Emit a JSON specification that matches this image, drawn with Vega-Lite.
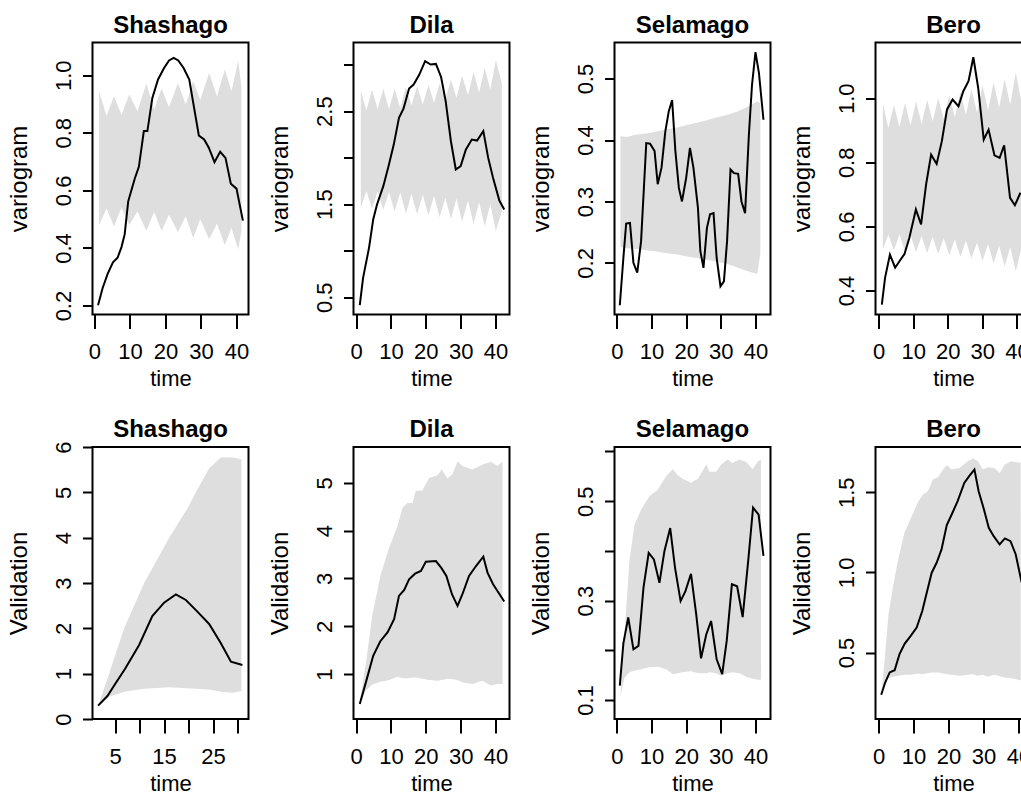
{
  "$schema": "https://vega.github.io/schema/vega-lite/v6.json",
  "background": "white",
  "padding": {"left": 5.5, "top": 12.5, "right": 5, "bottom": 5},
  "columns": 4,
  "spacing": {"row": 132.5, "column": 105},
  "bounds": "flush",
  "config": {
    "view": {"stroke": "black", "strokeWidth": 2},
    "axis": {"grid": false, "domain": false, "ticks": true, "tickColor": "black", "tickWidth": 2, "labelColor": "black", "titleColor": "black", "labelOverlap": false, "labelFlush": false, "titleFontWeight": "normal"},
    "axisX": {"tickSize": 14, "labelPadding": 13, "labelFont": "Liberation Sans", "labelFontSize": 22, "titleFont": "Liberation Sans", "titleFontSize": 22, "titleY": 71, "titleBaseline": "alphabetic"},
    "axisY": {"tickSize": 10, "labelPadding": 12.5, "labelAngle": -90, "labelAlign": "center", "labelBaseline": "alphabetic", "labelFont": "Liberation Sans", "labelFontSize": 22, "titleFont": "Liberation Sans", "titleFontSize": 24, "titleAngle": -90, "titleX": -66, "titleY": 136, "titleBaseline": "alphabetic", "titleAlign": "center"},
    "title": {"font": "Liberation Sans", "fontSize": 24, "fontWeight": "bold", "baseline": "alphabetic", "offset": 5, "color": "black", "frame": "group", "anchor": "middle"}
  },
  "concat": [
    {
      "width": 156, "height": 272, "title": "Shashago",
      "encoding": {
        "x": {"field": "t", "type": "quantitative", "scale": {"domain": [-0.56, 43.38], "nice": false, "zero": false}, "axis": {"values": [0, 10, 20, 30, 40], "title": "time"}},
        "y": {"field": "v", "type": "quantitative", "scale": {"domain": [0.169, 1.1135], "nice": false, "zero": false}, "axis": {"values": [0.2, 0.4, 0.6, 0.8, 1.0], "format": ".1f", "title": "variogram"}}
      },
      "layer": [
        {"data": {"values": [
          {"t": 1.3, "v": 0.944, "lo": 0.479}, {"t": 3.4, "v": 0.858, "lo": 0.537}, {"t": 5.5, "v": 0.927, "lo": 0.475}, {"t": 7.6, "v": 0.863, "lo": 0.54}, {"t": 9.8, "v": 0.933, "lo": 0.48}, {"t": 12.1, "v": 0.875, "lo": 0.527}, {"t": 14.6, "v": 0.97, "lo": 0.46}, {"t": 16.8, "v": 0.881, "lo": 0.525}, {"t": 18.9, "v": 0.954, "lo": 0.46}, {"t": 21.0, "v": 0.889, "lo": 0.515}, {"t": 23.5, "v": 0.973, "lo": 0.455}, {"t": 25.7, "v": 0.898, "lo": 0.51}, {"t": 27.8, "v": 0.98, "lo": 0.435}, {"t": 29.8, "v": 0.915, "lo": 0.5}, {"t": 32.3, "v": 1.008, "lo": 0.43}, {"t": 34.5, "v": 0.927, "lo": 0.485}, {"t": 36.7, "v": 1.02, "lo": 0.41}, {"t": 38.6, "v": 0.944, "lo": 0.47}, {"t": 40.5, "v": 1.05, "lo": 0.395}, {"t": 41.4, "v": 0.958, "lo": 0.46}
        ]}, "mark": {"type": "area", "color": "#dedede", "clip": true}, "encoding": {"y2": {"field": "lo"}}},
        {"data": {"values": [
          {"t": 1.0, "v": 0.201}, {"t": 2.3, "v": 0.261}, {"t": 3.7, "v": 0.31}, {"t": 5.2, "v": 0.35}, {"t": 6.5, "v": 0.366}, {"t": 7.6, "v": 0.403}, {"t": 8.5, "v": 0.447}, {"t": 9.5, "v": 0.562}, {"t": 10.6, "v": 0.609}, {"t": 11.4, "v": 0.643}, {"t": 12.5, "v": 0.682}, {"t": 13.9, "v": 0.806}, {"t": 14.9, "v": 0.806}, {"t": 16.3, "v": 0.921}, {"t": 17.9, "v": 0.985}, {"t": 19.6, "v": 1.025}, {"t": 21.0, "v": 1.051}, {"t": 22.3, "v": 1.06}, {"t": 23.6, "v": 1.051}, {"t": 25.1, "v": 1.025}, {"t": 26.7, "v": 0.985}, {"t": 27.9, "v": 0.898}, {"t": 29.4, "v": 0.79}, {"t": 30.9, "v": 0.777}, {"t": 32.2, "v": 0.748}, {"t": 33.8, "v": 0.698}, {"t": 35.4, "v": 0.734}, {"t": 36.9, "v": 0.713}, {"t": 38.4, "v": 0.623}, {"t": 40.0, "v": 0.606}, {"t": 41.8, "v": 0.495}
        ]}, "mark": {"type": "line", "color": "black", "strokeWidth": 2, "clip": true}}
      ]
    },
    {
      "width": 156, "height": 272, "title": "Dila",
      "encoding": {
        "x": {"field": "t", "type": "quantitative", "scale": {"domain": [-0.75, 44.01], "nice": false, "zero": false}, "axis": {"values": [0, 10, 20, 30, 40], "title": "time"}},
        "y": {"field": "v", "type": "quantitative", "scale": {"domain": [0.314, 3.237], "nice": false, "zero": false}, "axis": {"values": [0.5, 1, 1.5, 2, 2.5, 3], "format": ".1f", "labelExpr": "indexof([1,2,3], datum.value) >= 0 ? '' : datum.label", "title": "variogram"}}
      },
      "layer": [
        {"data": {"values": [
          {"t": 1.34, "v": 2.72, "lo": 1.46}, {"t": 2.96, "v": 2.505, "lo": 1.64}, {"t": 4.57, "v": 2.73, "lo": 1.45}, {"t": 6.19, "v": 2.52, "lo": 1.635}, {"t": 7.81, "v": 2.74, "lo": 1.44}, {"t": 9.43, "v": 2.52, "lo": 1.63}, {"t": 11.04, "v": 2.74, "lo": 1.42}, {"t": 12.66, "v": 2.53, "lo": 1.625}, {"t": 14.28, "v": 2.755, "lo": 1.4}, {"t": 15.89, "v": 2.56, "lo": 1.61}, {"t": 17.51, "v": 2.77, "lo": 1.39}, {"t": 19.13, "v": 2.57, "lo": 1.6}, {"t": 20.75, "v": 2.78, "lo": 1.38}, {"t": 22.36, "v": 2.59, "lo": 1.59}, {"t": 23.98, "v": 2.8, "lo": 1.36}, {"t": 25.6, "v": 2.62, "lo": 1.57}, {"t": 27.2, "v": 2.84, "lo": 1.34}, {"t": 28.8, "v": 2.64, "lo": 1.56}, {"t": 30.4, "v": 2.88, "lo": 1.31}, {"t": 32.1, "v": 2.67, "lo": 1.54}, {"t": 33.7, "v": 2.92, "lo": 1.29}, {"t": 35.3, "v": 2.7, "lo": 1.52}, {"t": 36.9, "v": 2.96, "lo": 1.26}, {"t": 38.5, "v": 2.73, "lo": 1.5}, {"t": 40.1, "v": 3.05, "lo": 1.21}, {"t": 41.8, "v": 2.8, "lo": 1.42}
        ]}, "mark": {"type": "area", "color": "#dedede", "clip": true}, "encoding": {"y2": {"field": "lo"}}},
        {"data": {"values": [
          {"t": 1.05, "v": 0.414}, {"t": 2.0, "v": 0.708}, {"t": 3.7, "v": 1.03}, {"t": 4.9, "v": 1.335}, {"t": 6.0, "v": 1.496}, {"t": 7.8, "v": 1.693}, {"t": 9.3, "v": 1.908}, {"t": 10.8, "v": 2.14}, {"t": 12.3, "v": 2.427}, {"t": 13.6, "v": 2.527}, {"t": 15.2, "v": 2.742}, {"t": 16.5, "v": 2.785}, {"t": 18.1, "v": 2.89}, {"t": 19.8, "v": 3.036}, {"t": 21.4, "v": 3.0}, {"t": 22.9, "v": 3.007}, {"t": 24.4, "v": 2.864}, {"t": 25.7, "v": 2.606}, {"t": 27.2, "v": 2.176}, {"t": 28.6, "v": 1.872}, {"t": 30.0, "v": 1.908}, {"t": 31.5, "v": 2.087}, {"t": 33.2, "v": 2.194}, {"t": 34.7, "v": 2.183}, {"t": 36.5, "v": 2.284}, {"t": 37.9, "v": 1.997}, {"t": 39.3, "v": 1.782}, {"t": 41.1, "v": 1.539}, {"t": 42.5, "v": 1.442}
        ]}, "mark": {"type": "line", "color": "black", "strokeWidth": 2, "clip": true}}
      ]
    },
    {
      "width": 156, "height": 272, "title": "Selamago",
      "encoding": {
        "x": {"field": "t", "type": "quantitative", "scale": {"domain": [-0.66, 44.33], "nice": false, "zero": false}, "axis": {"values": [0, 10, 20, 30, 40], "title": "time"}},
        "y": {"field": "v", "type": "quantitative", "scale": {"domain": [0.116, 0.5587], "nice": false, "zero": false}, "axis": {"values": [0.2, 0.3, 0.4, 0.5], "format": ".1f", "title": "variogram"}}
      },
      "layer": [
        {"data": {"values": [
          {"t": 1.06, "v": 0.406, "lo": 0.226}, {"t": 3, "v": 0.405, "lo": 0.224}, {"t": 5, "v": 0.408, "lo": 0.223}, {"t": 8, "v": 0.41, "lo": 0.221}, {"t": 11, "v": 0.413, "lo": 0.219}, {"t": 14, "v": 0.417, "lo": 0.216}, {"t": 17, "v": 0.42, "lo": 0.214}, {"t": 20, "v": 0.424, "lo": 0.211}, {"t": 23, "v": 0.428, "lo": 0.208}, {"t": 26, "v": 0.432, "lo": 0.205}, {"t": 29, "v": 0.437, "lo": 0.202}, {"t": 32, "v": 0.441, "lo": 0.198}, {"t": 35, "v": 0.447, "lo": 0.192}, {"t": 38, "v": 0.455, "lo": 0.186}, {"t": 40.5, "v": 0.463, "lo": 0.182}, {"t": 41.4, "v": 0.46, "lo": 0.215}
        ]}, "mark": {"type": "area", "color": "#dedede", "clip": true}, "encoding": {"y2": {"field": "lo"}}},
        {"data": {"values": [
          {"t": 0.87, "v": 0.131}, {"t": 1.9, "v": 0.208}, {"t": 2.7, "v": 0.264}, {"t": 3.8, "v": 0.265}, {"t": 4.8, "v": 0.2}, {"t": 5.9, "v": 0.184}, {"t": 7.0, "v": 0.235}, {"t": 8.5, "v": 0.395}, {"t": 9.6, "v": 0.394}, {"t": 10.9, "v": 0.382}, {"t": 11.8, "v": 0.328}, {"t": 12.9, "v": 0.355}, {"t": 14.0, "v": 0.414}, {"t": 15.0, "v": 0.447}, {"t": 15.96, "v": 0.465}, {"t": 16.9, "v": 0.382}, {"t": 17.9, "v": 0.322}, {"t": 18.8, "v": 0.3}, {"t": 20.0, "v": 0.338}, {"t": 21.1, "v": 0.387}, {"t": 22.1, "v": 0.355}, {"t": 23.4, "v": 0.29}, {"t": 24.1, "v": 0.219}, {"t": 25.0, "v": 0.192}, {"t": 26.0, "v": 0.257}, {"t": 26.9, "v": 0.279}, {"t": 27.9, "v": 0.281}, {"t": 28.8, "v": 0.208}, {"t": 29.9, "v": 0.162}, {"t": 30.9, "v": 0.17}, {"t": 31.8, "v": 0.235}, {"t": 32.8, "v": 0.352}, {"t": 33.8, "v": 0.346}, {"t": 35.0, "v": 0.345}, {"t": 35.96, "v": 0.3}, {"t": 37.0, "v": 0.281}, {"t": 38.1, "v": 0.409}, {"t": 39.0, "v": 0.49}, {"t": 40.0, "v": 0.543}, {"t": 41.0, "v": 0.509}, {"t": 42.3, "v": 0.433}
        ]}, "mark": {"type": "line", "color": "black", "strokeWidth": 2, "clip": true}}
      ]
    },
    {
      "width": 156, "height": 272, "title": "Bero",
      "encoding": {
        "x": {"field": "t", "type": "quantitative", "scale": {"domain": [-0.87, 44.2], "nice": false, "zero": false}, "axis": {"values": [0, 10, 20, 30, 40], "title": "time"}},
        "y": {"field": "v", "type": "quantitative", "scale": {"domain": [0.325, 1.174], "nice": false, "zero": false}, "axis": {"values": [0.4, 0.6, 0.8, 1.0], "format": ".1f", "title": "variogram"}}
      },
      "layer": [
        {"data": {"values": [
          {"t": 1.25, "v": 0.985, "lo": 0.528}, {"t": 2.85, "v": 0.907, "lo": 0.575}, {"t": 4.45, "v": 0.978, "lo": 0.525}, {"t": 6.05, "v": 0.91, "lo": 0.575}, {"t": 7.65, "v": 0.985, "lo": 0.522}, {"t": 9.25, "v": 0.915, "lo": 0.573}, {"t": 10.85, "v": 0.99, "lo": 0.52}, {"t": 12.45, "v": 0.92, "lo": 0.57}, {"t": 14.05, "v": 0.995, "lo": 0.517}, {"t": 15.65, "v": 0.928, "lo": 0.567}, {"t": 17.25, "v": 1.0, "lo": 0.514}, {"t": 18.85, "v": 0.935, "lo": 0.564}, {"t": 20.45, "v": 1.01, "lo": 0.51}, {"t": 22.05, "v": 0.94, "lo": 0.56}, {"t": 23.65, "v": 1.02, "lo": 0.505}, {"t": 25.25, "v": 0.948, "lo": 0.555}, {"t": 26.85, "v": 1.03, "lo": 0.5}, {"t": 28.45, "v": 0.955, "lo": 0.55}, {"t": 30.05, "v": 1.04, "lo": 0.492}, {"t": 31.65, "v": 0.962, "lo": 0.545}, {"t": 33.25, "v": 1.05, "lo": 0.485}, {"t": 34.85, "v": 0.97, "lo": 0.54}, {"t": 36.45, "v": 1.06, "lo": 0.475}, {"t": 38.05, "v": 0.98, "lo": 0.535}, {"t": 39.65, "v": 1.08, "lo": 0.46}, {"t": 41.25, "v": 0.99, "lo": 0.53}
        ]}, "mark": {"type": "area", "color": "#dedede", "clip": true}, "encoding": {"y2": {"field": "lo"}}},
        {"data": {"values": [
          {"t": 0.96, "v": 0.356}, {"t": 1.9, "v": 0.44}, {"t": 3.3, "v": 0.512}, {"t": 4.8, "v": 0.471}, {"t": 6.1, "v": 0.492}, {"t": 7.5, "v": 0.514}, {"t": 8.9, "v": 0.564}, {"t": 10.8, "v": 0.653}, {"t": 12.3, "v": 0.606}, {"t": 13.75, "v": 0.731}, {"t": 15.2, "v": 0.824}, {"t": 16.8, "v": 0.795}, {"t": 18.3, "v": 0.866}, {"t": 19.8, "v": 0.965}, {"t": 21.4, "v": 0.996}, {"t": 23.1, "v": 0.975}, {"t": 24.5, "v": 1.022}, {"t": 26.0, "v": 1.053}, {"t": 27.4, "v": 1.128}, {"t": 28.8, "v": 1.032}, {"t": 30.4, "v": 0.871}, {"t": 31.8, "v": 0.902}, {"t": 33.5, "v": 0.822}, {"t": 35.0, "v": 0.814}, {"t": 36.3, "v": 0.853}, {"t": 38.0, "v": 0.689}, {"t": 39.4, "v": 0.666}, {"t": 41.0, "v": 0.705}
        ]}, "mark": {"type": "line", "color": "black", "strokeWidth": 2, "clip": true}}
      ]
    },
    {
      "width": 156, "height": 272, "title": {"text": "Shashago", "offset": -1.5},
      "encoding": {
        "x": {"field": "t", "type": "quantitative", "scale": {"domain": [0.38, 32.24], "nice": false, "zero": false}, "axis": {"values": [5, 10, 15, 20, 25, 30], "labelExpr": "indexof([10,20,30], datum.value) >= 0 ? '' : datum.label", "title": "time"}},
        "y": {"field": "v", "type": "quantitative", "scale": {"domain": [0, 6], "nice": false, "zero": false}, "axis": {"values": [0, 1, 2, 3, 4, 5, 6], "format": "d", "title": "Validation"}}
      },
      "layer": [
        {"data": {"values": [
          {"t": 1.59, "v": 0.31, "lo": 0.287}, {"t": 3.77, "v": 1.0, "lo": 0.49}, {"t": 6.84, "v": 2.0, "lo": 0.6}, {"t": 10.93, "v": 3.0, "lo": 0.67}, {"t": 16.04, "v": 4.0, "lo": 0.7}, {"t": 19.8, "v": 4.65, "lo": 0.68}, {"t": 21.5, "v": 5.0, "lo": 0.67}, {"t": 24.2, "v": 5.53, "lo": 0.65}, {"t": 26.6, "v": 5.77, "lo": 0.6}, {"t": 29.0, "v": 5.77, "lo": 0.58}, {"t": 30.8, "v": 5.73, "lo": 0.62}
        ]}, "mark": {"type": "area", "color": "#dedede", "clip": true}, "encoding": {"y2": {"field": "lo"}}},
        {"data": {"values": [
          {"t": 1.52, "v": 0.294}, {"t": 3.43, "v": 0.507}, {"t": 5.1, "v": 0.787}, {"t": 6.98, "v": 1.096}, {"t": 9.9, "v": 1.632}, {"t": 12.6, "v": 2.272}, {"t": 15.0, "v": 2.566}, {"t": 17.4, "v": 2.75}, {"t": 19.45, "v": 2.625}, {"t": 21.8, "v": 2.368}, {"t": 24.2, "v": 2.096}, {"t": 26.6, "v": 1.669}, {"t": 28.65, "v": 1.265}, {"t": 31.0, "v": 1.191}
        ]}, "mark": {"type": "line", "color": "black", "strokeWidth": 2, "clip": true}}
      ]
    },
    {
      "width": 156, "height": 272, "title": "Dila",
      "encoding": {
        "x": {"field": "t", "type": "quantitative", "scale": {"domain": [-0.75, 44.01], "nice": false, "zero": false}, "axis": {"values": [0, 10, 20, 30, 40], "title": "time"}},
        "y": {"field": "v", "type": "quantitative", "scale": {"domain": [0.06, 5.75], "nice": false, "zero": false}, "axis": {"values": [1, 2, 3, 4, 5], "format": "d", "title": "Validation"}}
      },
      "layer": [
        {"data": {"values": [
          {"t": 1.05, "v": 0.41, "lo": 0.37}, {"t": 2.78, "v": 1.21, "lo": 0.65}, {"t": 4.69, "v": 2.25, "lo": 0.78}, {"t": 7.08, "v": 3.09, "lo": 0.84}, {"t": 9.47, "v": 3.64, "lo": 0.875}, {"t": 11.87, "v": 4.1, "lo": 0.944}, {"t": 13.3, "v": 4.48, "lo": 0.91}, {"t": 14.7, "v": 4.58, "lo": 0.915}, {"t": 16.2, "v": 4.58, "lo": 0.93}, {"t": 17.1, "v": 4.83, "lo": 0.93}, {"t": 19.0, "v": 4.84, "lo": 0.9}, {"t": 20.96, "v": 5.1, "lo": 0.875}, {"t": 23.35, "v": 5.16, "lo": 0.86}, {"t": 24.6, "v": 5.28, "lo": 0.875}, {"t": 26.2, "v": 5.09, "lo": 0.9}, {"t": 27.7, "v": 5.19, "lo": 0.89}, {"t": 29.1, "v": 5.45, "lo": 0.875}, {"t": 30.5, "v": 5.35, "lo": 0.83}, {"t": 33.4, "v": 5.28, "lo": 0.79}, {"t": 36.2, "v": 5.38, "lo": 0.86}, {"t": 38.7, "v": 5.44, "lo": 0.76}, {"t": 40.6, "v": 5.35, "lo": 0.79}, {"t": 42.0, "v": 5.45, "lo": 0.79}
        ]}, "mark": {"type": "area", "color": "#dedede", "clip": true}, "encoding": {"y2": {"field": "lo"}}},
        {"data": {"values": [
          {"t": 1.05, "v": 0.374}, {"t": 2.8, "v": 0.826}, {"t": 4.9, "v": 1.383}, {"t": 6.9, "v": 1.682}, {"t": 9.0, "v": 1.87}, {"t": 10.9, "v": 2.148}, {"t": 12.3, "v": 2.635}, {"t": 13.8, "v": 2.76}, {"t": 15.2, "v": 2.983}, {"t": 16.9, "v": 3.1}, {"t": 18.6, "v": 3.157}, {"t": 20.0, "v": 3.351}, {"t": 22.9, "v": 3.365}, {"t": 24.4, "v": 3.226}, {"t": 25.9, "v": 3.052}, {"t": 27.5, "v": 2.67}, {"t": 29.1, "v": 2.426}, {"t": 30.5, "v": 2.67}, {"t": 32.4, "v": 3.052}, {"t": 34.4, "v": 3.26}, {"t": 36.5, "v": 3.456}, {"t": 37.7, "v": 3.122}, {"t": 39.3, "v": 2.878}, {"t": 42.5, "v": 2.517}
        ]}, "mark": {"type": "line", "color": "black", "strokeWidth": 2, "clip": true}}
      ]
    },
    {
      "width": 156, "height": 272, "title": "Selamago",
      "encoding": {
        "x": {"field": "t", "type": "quantitative", "scale": {"domain": [-0.66, 44.33], "nice": false, "zero": false}, "axis": {"values": [0, 10, 20, 30, 40], "title": "time"}},
        "y": {"field": "v", "type": "quantitative", "scale": {"domain": [0.0619, 0.609], "nice": false, "zero": false}, "axis": {"values": [0.1, 0.2, 0.3, 0.4, 0.5, 0.6], "format": ".1f", "labelExpr": "indexof([0.2,0.4,0.6], datum.value) >= 0 ? '' : datum.label", "title": "Validation"}}
      },
      "layer": [
        {"data": {"values": [
          {"t": 1.06, "v": 0.109, "lo": 0.107}, {"t": 2.21, "v": 0.232, "lo": 0.145}, {"t": 3.65, "v": 0.38, "lo": 0.156}, {"t": 5.1, "v": 0.453, "lo": 0.159}, {"t": 7.0, "v": 0.483, "lo": 0.162}, {"t": 9.4, "v": 0.51, "lo": 0.166}, {"t": 11.8, "v": 0.523, "lo": 0.167}, {"t": 14.2, "v": 0.55, "lo": 0.162}, {"t": 16.2, "v": 0.564, "lo": 0.152}, {"t": 17.6, "v": 0.552, "lo": 0.154}, {"t": 19.0, "v": 0.545, "lo": 0.156}, {"t": 21.4, "v": 0.537, "lo": 0.158}, {"t": 23.4, "v": 0.545, "lo": 0.154}, {"t": 25.8, "v": 0.574, "lo": 0.154}, {"t": 26.7, "v": 0.559, "lo": 0.156}, {"t": 28.7, "v": 0.559, "lo": 0.154}, {"t": 30.1, "v": 0.574, "lo": 0.149}, {"t": 32.0, "v": 0.584, "lo": 0.154}, {"t": 33.3, "v": 0.577, "lo": 0.156}, {"t": 35.4, "v": 0.584, "lo": 0.154}, {"t": 37.3, "v": 0.579, "lo": 0.147}, {"t": 39.2, "v": 0.564, "lo": 0.143}, {"t": 40.7, "v": 0.58, "lo": 0.141}, {"t": 41.6, "v": 0.584, "lo": 0.141}
        ]}, "mark": {"type": "area", "color": "#dedede", "clip": true}, "encoding": {"y2": {"field": "lo"}}},
        {"data": {"values": [
          {"t": 0.87, "v": 0.129}, {"t": 1.9, "v": 0.214}, {"t": 3.3, "v": 0.266}, {"t": 4.8, "v": 0.202}, {"t": 6.25, "v": 0.209}, {"t": 7.7, "v": 0.326}, {"t": 9.2, "v": 0.396}, {"t": 10.7, "v": 0.383}, {"t": 12.3, "v": 0.336}, {"t": 13.75, "v": 0.4}, {"t": 15.4, "v": 0.446}, {"t": 16.8, "v": 0.366}, {"t": 18.4, "v": 0.299}, {"t": 19.8, "v": 0.319}, {"t": 21.4, "v": 0.354}, {"t": 22.9, "v": 0.273}, {"t": 24.3, "v": 0.184}, {"t": 25.8, "v": 0.232}, {"t": 27.2, "v": 0.259}, {"t": 28.8, "v": 0.182}, {"t": 30.4, "v": 0.152}, {"t": 31.7, "v": 0.219}, {"t": 33.2, "v": 0.333}, {"t": 34.7, "v": 0.329}, {"t": 36.3, "v": 0.267}, {"t": 37.9, "v": 0.38}, {"t": 39.3, "v": 0.487}, {"t": 40.9, "v": 0.473}, {"t": 42.3, "v": 0.39}
        ]}, "mark": {"type": "line", "color": "black", "strokeWidth": 2, "clip": true}}
      ]
    },
    {
      "width": 156, "height": 272, "title": "Bero",
      "encoding": {
        "x": {"field": "t", "type": "quantitative", "scale": {"domain": [-0.86, 43.7], "nice": false, "zero": false}, "axis": {"values": [0, 10, 20, 30, 40], "title": "time"}},
        "y": {"field": "v", "type": "quantitative", "scale": {"domain": [0.0856, 1.782], "nice": false, "zero": false}, "axis": {"values": [0.5, 1.0, 1.5], "format": ".1f", "title": "Validation"}}
      },
      "layer": [
        {"data": {"values": [
          {"t": 0.76, "v": 0.22, "lo": 0.21}, {"t": 1.71, "v": 0.448, "lo": 0.324}, {"t": 2.86, "v": 0.739, "lo": 0.34}, {"t": 4.1, "v": 0.905, "lo": 0.349}, {"t": 5.5, "v": 1.07, "lo": 0.355}, {"t": 7.4, "v": 1.247, "lo": 0.361}, {"t": 9.3, "v": 1.34, "lo": 0.361}, {"t": 11.2, "v": 1.434, "lo": 0.369}, {"t": 12.7, "v": 1.485, "lo": 0.365}, {"t": 14.1, "v": 1.506, "lo": 0.373}, {"t": 15.5, "v": 1.579, "lo": 0.375}, {"t": 17.0, "v": 1.593, "lo": 0.375}, {"t": 18.4, "v": 1.641, "lo": 0.369}, {"t": 19.6, "v": 1.668, "lo": 0.365}, {"t": 20.8, "v": 1.641, "lo": 0.361}, {"t": 23.1, "v": 1.651, "lo": 0.355}, {"t": 25.5, "v": 1.693, "lo": 0.361}, {"t": 27.0, "v": 1.71, "lo": 0.365}, {"t": 28.4, "v": 1.693, "lo": 0.355}, {"t": 29.8, "v": 1.641, "lo": 0.361}, {"t": 31.2, "v": 1.656, "lo": 0.349}, {"t": 33.1, "v": 1.651, "lo": 0.361}, {"t": 34.6, "v": 1.62, "lo": 0.353}, {"t": 36.0, "v": 1.672, "lo": 0.344}, {"t": 37.9, "v": 1.693, "lo": 0.34}, {"t": 40.6, "v": 1.683, "lo": 0.328}
        ]}, "mark": {"type": "area", "color": "#dedede", "clip": true}, "encoding": {"y2": {"field": "lo"}}},
        {"data": {"values": [
          {"t": 0.77, "v": 0.237}, {"t": 1.9, "v": 0.313}, {"t": 3.2, "v": 0.376}, {"t": 4.6, "v": 0.39}, {"t": 6.0, "v": 0.49}, {"t": 7.5, "v": 0.556}, {"t": 9.2, "v": 0.604}, {"t": 10.9, "v": 0.656}, {"t": 12.5, "v": 0.759}, {"t": 13.9, "v": 0.884}, {"t": 15.2, "v": 0.998}, {"t": 16.6, "v": 1.06}, {"t": 18.0, "v": 1.143}, {"t": 19.5, "v": 1.295}, {"t": 20.9, "v": 1.361}, {"t": 22.6, "v": 1.444}, {"t": 24.5, "v": 1.558}, {"t": 25.9, "v": 1.6}, {"t": 27.4, "v": 1.641}, {"t": 28.6, "v": 1.506}, {"t": 30.0, "v": 1.402}, {"t": 31.5, "v": 1.278}, {"t": 32.9, "v": 1.226}, {"t": 34.6, "v": 1.174}, {"t": 36.1, "v": 1.212}, {"t": 37.7, "v": 1.195}, {"t": 39.2, "v": 1.112}, {"t": 40.9, "v": 0.936}
        ]}, "mark": {"type": "line", "color": "black", "strokeWidth": 2, "clip": true}}
      ]
    }
  ]
}
